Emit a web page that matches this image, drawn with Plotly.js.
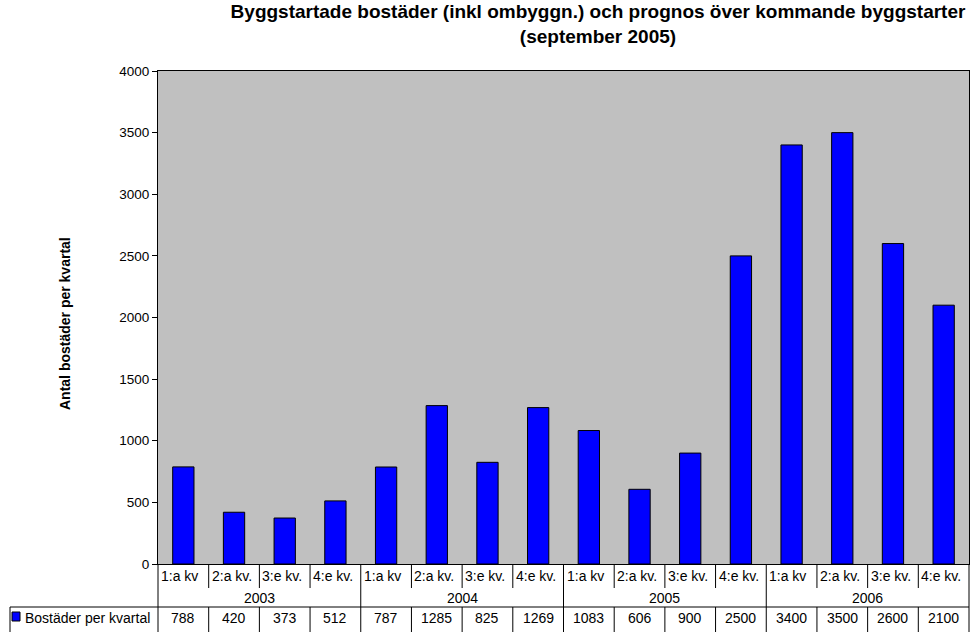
<!DOCTYPE html>
<html><head><meta charset="utf-8">
<script src="https://cdn.plot.ly/plotly-3.0.1.min.js"></script>
<style>html,body{margin:0;padding:0;background:#fff}</style>
</head><body><div id="chart" style="width:978px;height:632px"></div>
<script>
// ---- data ----
const years = ['2003', '2004', '2005', '2006'];
const quarters = ['1:a kv', '2:a kv.', '3:e kv.', '4:e kv.'];
const values = [788, 420, 373, 512, 787, 1285, 825, 1269, 1083, 606, 900, 2500, 3400, 3500, 2600, 2100];
const seriesName = 'Bostäder per kvartal';
const chartTitle = 'Byggstartade bostäder (inkl ombyggn.) och prognos över kommande byggstarter<br>(september 2005)';
const yTitle = 'Antal bostäder per kvartal';

// ---- layout geometry ----
const W = 978, H = 632, L = 158, R = 9, T = 71, B = 68;
const FONT = 'Liberation Sans, Arial, sans-serif';
const plotH = H - T - B, plotW = W - L - R;
const py = p => (H - B - p) / plotH;      // pixel y -> paper y
const px = p => (p - L) / plotW;          // pixel x -> paper x

const n = years.length * quarters.length;
const idx = [];
const qLabels = [];
for (let y = 0; y < years.length; y++) for (let q = 0; q < quarters.length; q++) { idx.push(idx.length); qLabels.push(quarters[q]); }

const line = {color: '#000', width: 1};
const shapes = [];
const annotations = [];

// table borders
shapes.push({type: 'line', xref: 'paper', yref: 'paper', x0: px(10), x1: 1, y0: py(607), y1: py(607), line});
shapes.push({type: 'line', xref: 'paper', yref: 'paper', x0: px(10), x1: px(10), y0: py(607), y1: py(640), line});
shapes.push({type: 'line', xref: 'paper', yref: 'paper', x0: 0, x1: 0, y0: 0, y1: py(640), line});
shapes.push({type: 'line', xref: 'paper', yref: 'paper', x0: 1, x1: 1, y0: 0, y1: py(640), line});
for (let i = 1; i < n; i++) {
  const isYear = i % quarters.length === 0;
  shapes.push({type: 'line', xref: 'x', yref: 'paper', x0: i - 0.5, x1: i - 0.5,
    y0: 0, y1: isYear ? py(607) : py(588), line});
  shapes.push({type: 'line', xref: 'x', yref: 'paper', x0: i - 0.5, x1: i - 0.5,
    y0: py(607), y1: py(640), line});
}
// legend key
shapes.push({type: 'rect', xref: 'paper', yref: 'paper', x0: px(12), x1: px(20), y0: py(621), y1: py(612),
  fillcolor: '#0000FF', line: {color: '#000', width: 1}});

const tf = {family: FONT, size: 14, color: '#000'};
for (let i = 0; i < n; i++) {
  annotations.push({xref: 'x', yref: 'paper', x: i - 0.5, xanchor: 'left', xshift: 1, y: py(576), yanchor: 'middle',
    text: qLabels[i], showarrow: false, font: tf});
  annotations.push({xref: 'x', yref: 'paper', x: idx[i], xanchor: 'center', y: py(618), yanchor: 'middle',
    text: String(values[i]), showarrow: false, font: tf});
}
for (let y = 0; y < years.length; y++) {
  annotations.push({xref: 'x', yref: 'paper', x: y * quarters.length + (quarters.length - 1) / 2, xanchor: 'center',
    y: py(598), yanchor: 'middle', text: years[y], showarrow: false, font: tf});
}
annotations.push({xref: 'paper', yref: 'paper', x: px(23), xanchor: 'left', y: py(618), yanchor: 'middle',
  text: seriesName, showarrow: false, font: tf});
annotations.push({xref: 'paper', yref: 'paper', x: px(65), xanchor: 'center', y: py(324), yanchor: 'middle',
  textangle: -90, text: '<b>' + yTitle + '</b>', showarrow: false, font: {family: FONT, size: 14, color: '#000'}});

const data = [{
  type: 'bar', x: idx, y: values, name: seriesName, width: 0.42,
  marker: {color: '#0000FF', line: {color: '#000', width: 1}}, hoverinfo: 'y'
}];

const layout = {
  width: W, height: H,
  margin: {l: L, r: R, t: T, b: B, pad: 0},
  paper_bgcolor: '#fff', plot_bgcolor: '#C0C0C0',
  showlegend: false,
  font: {family: FONT, size: 13, color: '#000'},
  title: {text: '<b>' + chartTitle + '</b>', font: {family: FONT, size: 19, color: '#000'},
    xref: 'container', x: 598 / W, xanchor: 'center', yref: 'container', y: 1 - 18 / H, yanchor: 'top'},
  xaxis: {range: [-0.5, n - 0.5], showticklabels: false, ticks: '', showgrid: false, zeroline: false,
    showline: true, linecolor: '#000', linewidth: 1, mirror: true, fixedrange: true},
  yaxis: {range: [0, 4000], dtick: 500, tick0: 0, ticks: 'outside', ticklen: 5, tickcolor: '#000', tickwidth: 1,
    showgrid: false, zeroline: false, showline: true, linecolor: '#000', linewidth: 1, mirror: true,
    tickfont: {family: FONT, size: 13.5, color: '#000'}, fixedrange: true},
  shapes, annotations
};
Plotly.newPlot('chart', data, layout, {displayModeBar: false, staticPlot: true});
</script></body></html>
